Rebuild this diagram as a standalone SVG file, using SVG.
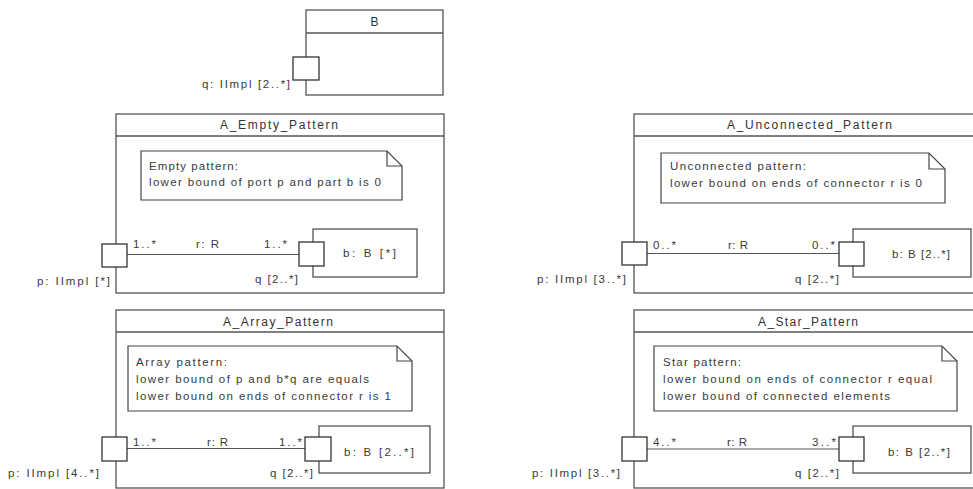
<svg xmlns="http://www.w3.org/2000/svg" width="973" height="489" viewBox="0 0 973 489">
<style>
.frame{fill:#fff;stroke:#555;stroke-width:1.3}
.hdr{stroke:#555;stroke-width:1.3;fill:none}
.note{fill:#fff;stroke:#444;stroke-width:1.2}
.fold{fill:none;stroke:#444;stroke-width:1.2}
.part{fill:#fff;stroke:#444;stroke-width:1.2}
.port{fill:#fff;stroke:#333;stroke-width:1.3}
.conn{stroke:#555;stroke-width:1.2;fill:none}
text{font-family:"Liberation Sans",Arial,sans-serif;font-size:11.5px;fill:#3a3a3a}
.t{font-size:12px;fill:#333}
</style>
<rect width="973" height="489" fill="#fff"/>

<g id="B">
<rect class="frame" x="306" y="10" width="137" height="85"/>
<line class="hdr" x1="306" y1="33" x2="443" y2="33"/>
<text class="t" x="374.5" y="26" text-anchor="middle">B</text>
<rect class="port" x="293" y="57" width="26" height="23"/>
<text x="202" y="88" textLength="88" lengthAdjust="spacing">q: IImpl [2..*]</text>
</g>

<g id="A_Empty_Pattern">
<rect class="frame" x="116" y="114" width="328" height="179"/>
<line class="hdr" x1="116" y1="136" x2="444" y2="136"/>
<text class="t" x="220" y="129" textLength="118" lengthAdjust="spacing">A_Empty_Pattern</text>
<g id="note_empty">
<path class="note" d="M141,151 H387 L402,166 V200 H141 Z"/>
<path class="fold" d="M387,151 V166 H402"/>
<text x="149" y="170" textLength="89" lengthAdjust="spacing">Empty pattern:</text>
<text x="149" y="186" textLength="232" lengthAdjust="spacing">lower bound of port p and part b is 0</text>
</g>
<g id="part_b_empty">
<rect class="part" x="313" y="229" width="104" height="48"/>
<text x="343" y="257" textLength="53" lengthAdjust="spacing">b: B [*]</text>
</g>
</g>

<g id="A_Array_Pattern">
<rect class="frame" x="116" y="310" width="328" height="178"/>
<line class="hdr" x1="116" y1="332" x2="444" y2="332"/>
<text class="t" x="223" y="326" textLength="110" lengthAdjust="spacing">A_Array_Pattern</text>
<g id="note_array">
<path class="note" d="M128,346 H397 L412,361 V411 H128 Z"/>
<path class="fold" d="M397,346 V361 H412"/>
<text x="136" y="366" textLength="91" lengthAdjust="spacing">Array pattern:</text>
<text x="136" y="383" textLength="233" lengthAdjust="spacing">lower bound of p and b*q are equals</text>
<text x="136" y="399.5" textLength="255" lengthAdjust="spacing">lower bound on ends of connector r is 1</text>
</g>
<g id="part_b_array">
<rect class="part" x="319" y="426" width="111" height="47"/>
<text x="344" y="456" textLength="70" lengthAdjust="spacing">b: B [2..*]</text>
</g>
</g>

<g id="A_Unconnected_Pattern">
<rect class="frame" x="634" y="114" width="346" height="179"/>
<line class="hdr" x1="634" y1="136" x2="980" y2="136"/>
<text class="t" x="727" y="129" textLength="165" lengthAdjust="spacing">A_Unconnected_Pattern</text>
<g id="note_unconnected">
<path class="note" d="M661,153 H929 L945,169 V203 H661 Z"/>
<path class="fold" d="M929,153 V169 H945"/>
<text x="670" y="170" textLength="136" lengthAdjust="spacing">Unconnected pattern:</text>
<text x="670" y="187" textLength="252" lengthAdjust="spacing">lower bound on ends of connector r is 0</text>
</g>
<g id="part_b_unconnected">
<rect class="part" x="853" y="229" width="118" height="48"/>
<text x="892" y="258" textLength="58" lengthAdjust="spacing">b: B [2..*]</text>
</g>
</g>

<g id="A_Star_Pattern">
<rect class="frame" x="634" y="310" width="346" height="178"/>
<line class="hdr" x1="634" y1="332" x2="980" y2="332"/>
<text class="t" x="758" y="326" textLength="100" lengthAdjust="spacing">A_Star_Pattern</text>
<g id="note_star">
<path class="note" d="M654,346 H942 L957,361 V411 H654 Z"/>
<path class="fold" d="M942,346 V361 H957"/>
<text x="663" y="366" textLength="78" lengthAdjust="spacing">Star pattern:</text>
<text x="663" y="383" textLength="269" lengthAdjust="spacing">lower bound on ends of connector r equal</text>
<text x="663" y="399.5" textLength="227" lengthAdjust="spacing">lower bound of connected elements</text>
</g>
<g id="part_b_star">
<rect class="part" x="853" y="426" width="118" height="47"/>
<text x="888" y="456" textLength="62" lengthAdjust="spacing">b: B [2..*]</text>
</g>
</g>

<g id="connectors">
<line class="conn" x1="127" y1="254.5" x2="299" y2="254.5"/>
<line class="conn" x1="127" y1="448.5" x2="305" y2="448.5"/>
<line class="conn" x1="647" y1="253.5" x2="839" y2="253.5"/>
<line class="conn" x1="647" y1="449" x2="839" y2="449"/>
<text x="133" y="248" textLength="23" lengthAdjust="spacing">1..*</text>
<text x="196" y="248" textLength="23" lengthAdjust="spacing">r: R</text>
<text x="264" y="248" textLength="23" lengthAdjust="spacing">1..*</text>
<text x="133" y="446" textLength="23" lengthAdjust="spacing">1..*</text>
<text x="207" y="446" textLength="21" lengthAdjust="spacing">r: R</text>
<text x="279" y="446" textLength="23" lengthAdjust="spacing">1..*</text>
<text x="653" y="249" textLength="23" lengthAdjust="spacing">0..*</text>
<text x="728" y="249" textLength="20" lengthAdjust="spacing">r: R</text>
<text x="812" y="249" textLength="23" lengthAdjust="spacing">0..*</text>
<text x="653" y="446" textLength="23" lengthAdjust="spacing">4..*</text>
<text x="727" y="446" textLength="20" lengthAdjust="spacing">r: R</text>
<text x="812" y="446" textLength="24" lengthAdjust="spacing">3..*</text>
</g>

<g id="port_p_empty">
<rect class="port" x="102" y="244" width="25" height="23"/>
<text x="37" y="285" textLength="73" lengthAdjust="spacing">p: IImpl [*]</text>
</g>
<g id="port_q_empty">
<rect class="port" x="299" y="242" width="25" height="24"/>
<text x="255" y="283" textLength="43" lengthAdjust="spacing">q [2..*]</text>
</g>
<g id="port_p_array">
<rect class="port" x="102" y="437" width="25" height="24"/>
<text x="8" y="477" textLength="91" lengthAdjust="spacing">p: IImpl [4..*]</text>
</g>
<g id="port_q_array">
<rect class="port" x="305" y="437" width="26" height="24"/>
<text x="270" y="477" textLength="43" lengthAdjust="spacing">q [2..*]</text>
</g>
<g id="port_p_unconnected">
<rect class="port" x="622" y="242" width="25" height="23"/>
<text x="537" y="283" textLength="89" lengthAdjust="spacing">p: IImpl [3..*]</text>
</g>
<g id="port_q_unconnected">
<rect class="port" x="839" y="242" width="25" height="24"/>
<text x="795" y="283" textLength="44" lengthAdjust="spacing">q [2..*]</text>
</g>
<g id="port_p_star">
<rect class="port" x="622" y="437" width="25" height="24"/>
<text x="532" y="477" textLength="88" lengthAdjust="spacing">p: IImpl [3..*]</text>
</g>
<g id="port_q_star">
<rect class="port" x="839" y="437" width="25" height="24"/>
<text x="795" y="477" textLength="44" lengthAdjust="spacing">q [2..*]</text>
</g>
</svg>
